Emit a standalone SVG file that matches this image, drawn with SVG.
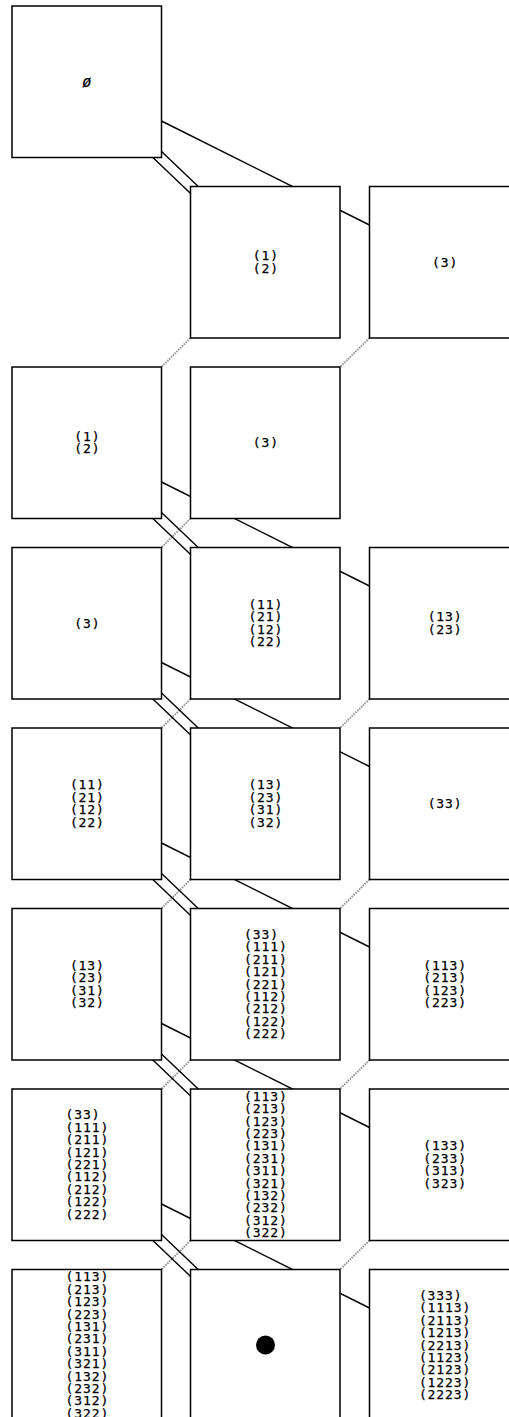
<svg xmlns="http://www.w3.org/2000/svg" width="509" height="1417" viewBox="0 0 509 1417">
<style>
.bx{fill:#fff;stroke:#000;stroke-width:1.5}
.ln{stroke:#000;stroke-width:1.4;fill:none}
.gr{stroke:#999;stroke-width:2;stroke-dasharray:1.6 1;fill:none}
.t{font-family:"DejaVu Sans Mono","Liberation Mono",monospace;font-size:13px;letter-spacing:0.9px;fill:#000;stroke:#000;stroke-width:0.25}
</style>
<rect width="509" height="1417" fill="#fff"/>
<g id="connectors">
<g id="gray">
<line class="gr" x1="190.5" y1="338" x2="161.5" y2="367"/>
<line class="gr" x1="369.5" y1="338" x2="340" y2="367"/>
<line class="gr" x1="190.5" y1="518.5" x2="161.5" y2="547.5"/>
<line class="gr" x1="190.5" y1="699" x2="161.5" y2="728"/>
<line class="gr" x1="369.5" y1="699" x2="340" y2="728"/>
<line class="gr" x1="190.5" y1="879.5" x2="161.5" y2="908.5"/>
<line class="gr" x1="369.5" y1="879.5" x2="340" y2="908.5"/>
<line class="gr" x1="190.5" y1="1060" x2="161.5" y2="1089"/>
<line class="gr" x1="369.5" y1="1060" x2="340" y2="1089"/>
<line class="gr" x1="190.5" y1="1240.5" x2="161.5" y2="1269.5"/>
<line class="gr" x1="369.5" y1="1240.5" x2="340" y2="1269.5"/>
</g>
<g id="long">
<line class="ln" x1="161.5" y1="121" x2="369.5" y2="225"/>
<line class="ln" x1="161.5" y1="482" x2="369.5" y2="586"/>
<line class="ln" x1="161.5" y1="662.5" x2="369.5" y2="766.5"/>
<line class="ln" x1="161.5" y1="843" x2="369.5" y2="947"/>
<line class="ln" x1="161.5" y1="1023.5" x2="369.5" y2="1127.5"/>
<line class="ln" x1="161.5" y1="1204" x2="369.5" y2="1308"/>
</g>
<g id="double">
<line class="ln" x1="150" y1="140.5" x2="215" y2="202.6"/>
<line class="ln" x1="145" y1="149.9" x2="210" y2="212"/>
<line class="ln" x1="150" y1="501.5" x2="215" y2="563.6"/>
<line class="ln" x1="145" y1="510.9" x2="210" y2="573"/>
<line class="ln" x1="150" y1="682" x2="215" y2="744.1"/>
<line class="ln" x1="145" y1="691.4" x2="210" y2="753.5"/>
<line class="ln" x1="150" y1="862.5" x2="215" y2="924.6"/>
<line class="ln" x1="145" y1="871.9" x2="210" y2="934"/>
<line class="ln" x1="150" y1="1043" x2="215" y2="1105.1"/>
<line class="ln" x1="145" y1="1052.4" x2="210" y2="1114.5"/>
<line class="ln" x1="150" y1="1223.5" x2="215" y2="1285.6"/>
<line class="ln" x1="145" y1="1232.9" x2="210" y2="1295"/>
</g>
</g>

<g id="r0c1"><rect class="bx" x="12" y="6" width="149.5" height="151.5"/><text class="t" x="86.75" y="87" text-anchor="middle" style="letter-spacing:0;font-style:italic;font-size:15px">ø</text></g>

<g id="r1c2"><rect class="bx" x="190.5" y="186.5" width="149.5" height="151.5"/><text class="t" x="252.8" y="260.3">(1)<tspan x="252.8" dy="12.4">(2)</tspan></text></g>
<g id="r1c3"><rect class="bx" x="369.5" y="186.5" width="149.5" height="151.5"/><text class="t" x="432" y="266.5">(3)</text></g>

<g id="r2c1"><rect class="bx" x="12" y="367" width="149.5" height="151.5"/><text class="t" x="74.3" y="440.8">(1)<tspan x="74.3" dy="12.4">(2)</tspan></text></g>
<g id="r2c2"><rect class="bx" x="190.5" y="367" width="149.5" height="151.5"/><text class="t" x="252.8" y="447">(3)</text></g>

<g id="r3c1"><rect class="bx" x="12" y="547.5" width="149.5" height="151.5"/><text class="t" x="74.3" y="627.5">(3)</text></g>
<g id="r3c2"><rect class="bx" x="190.5" y="547.5" width="149.5" height="151.5"/><text class="t" x="248.4" y="608.9">(11)<tspan x="248.4" dy="12.4">(21)</tspan><tspan x="248.4" dy="12.4">(12)</tspan><tspan x="248.4" dy="12.4">(22)</tspan></text></g>
<g id="r3c3"><rect class="bx" x="369.5" y="547.5" width="149.5" height="151.5"/><text class="t" x="427.65" y="621.3">(13)<tspan x="427.65" dy="12.4">(23)</tspan></text></g>

<g id="r4c1"><rect class="bx" x="12" y="728" width="149.5" height="151.5"/><text class="t" x="69.9" y="789.4">(11)<tspan x="69.9" dy="12.4">(21)</tspan><tspan x="69.9" dy="12.4">(12)</tspan><tspan x="69.9" dy="12.4">(22)</tspan></text></g>
<g id="r4c2"><rect class="bx" x="190.5" y="728" width="149.5" height="151.5"/><text class="t" x="248.4" y="789.4">(13)<tspan x="248.4" dy="12.4">(23)</tspan><tspan x="248.4" dy="12.4">(31)</tspan><tspan x="248.4" dy="12.4">(32)</tspan></text></g>
<g id="r4c3"><rect class="bx" x="369.5" y="728" width="149.5" height="151.5"/><text class="t" x="427.65" y="808">(33)</text></g>

<g id="r5c1"><rect class="bx" x="12" y="908.5" width="149.5" height="151.5"/><text class="t" x="69.9" y="969.9">(13)<tspan x="69.9" dy="12.4">(23)</tspan><tspan x="69.9" dy="12.4">(31)</tspan><tspan x="69.9" dy="12.4">(32)</tspan></text></g>
<g id="r5c2"><rect class="bx" x="190.5" y="908.5" width="149.5" height="151.5"/><text class="t" x="244.05" y="938.9">(33)<tspan x="244.05" dy="12.4">(111)</tspan><tspan x="244.05" dy="12.4">(211)</tspan><tspan x="244.05" dy="12.4">(121)</tspan><tspan x="244.05" dy="12.4">(221)</tspan><tspan x="244.05" dy="12.4">(112)</tspan><tspan x="244.05" dy="12.4">(212)</tspan><tspan x="244.05" dy="12.4">(122)</tspan><tspan x="244.05" dy="12.4">(222)</tspan></text></g>
<g id="r5c3"><rect class="bx" x="369.5" y="908.5" width="149.5" height="151.5"/><text class="t" x="423.3" y="969.9">(113)<tspan x="423.3" dy="12.4">(213)</tspan><tspan x="423.3" dy="12.4">(123)</tspan><tspan x="423.3" dy="12.4">(223)</tspan></text></g>

<g id="r6c1"><rect class="bx" x="12" y="1089" width="149.5" height="151.5"/><text class="t" x="65.55" y="1119.4">(33)<tspan x="65.55" dy="12.4">(111)</tspan><tspan x="65.55" dy="12.4">(211)</tspan><tspan x="65.55" dy="12.4">(121)</tspan><tspan x="65.55" dy="12.4">(221)</tspan><tspan x="65.55" dy="12.4">(112)</tspan><tspan x="65.55" dy="12.4">(212)</tspan><tspan x="65.55" dy="12.4">(122)</tspan><tspan x="65.55" dy="12.4">(222)</tspan></text></g>
<g id="r6c2"><rect class="bx" x="190.5" y="1089" width="149.5" height="151.5"/><text class="t" x="244.05" y="1100.8">(113)<tspan x="244.05" dy="12.4">(213)</tspan><tspan x="244.05" dy="12.4">(123)</tspan><tspan x="244.05" dy="12.4">(223)</tspan><tspan x="244.05" dy="12.4">(131)</tspan><tspan x="244.05" dy="12.4">(231)</tspan><tspan x="244.05" dy="12.4">(311)</tspan><tspan x="244.05" dy="12.4">(321)</tspan><tspan x="244.05" dy="12.4">(132)</tspan><tspan x="244.05" dy="12.4">(232)</tspan><tspan x="244.05" dy="12.4">(312)</tspan><tspan x="244.05" dy="12.4">(322)</tspan></text></g>
<g id="r6c3"><rect class="bx" x="369.5" y="1089" width="149.5" height="151.5"/><text class="t" x="423.3" y="1150.4">(133)<tspan x="423.3" dy="12.4">(233)</tspan><tspan x="423.3" dy="12.4">(313)</tspan><tspan x="423.3" dy="12.4">(323)</tspan></text></g>

<g id="r7c1"><rect class="bx" x="12" y="1269.5" width="149.5" height="151.5"/><text class="t" x="65.55" y="1281.3">(113)<tspan x="65.55" dy="12.4">(213)</tspan><tspan x="65.55" dy="12.4">(123)</tspan><tspan x="65.55" dy="12.4">(223)</tspan><tspan x="65.55" dy="12.4">(131)</tspan><tspan x="65.55" dy="12.4">(231)</tspan><tspan x="65.55" dy="12.4">(311)</tspan><tspan x="65.55" dy="12.4">(321)</tspan><tspan x="65.55" dy="12.4">(132)</tspan><tspan x="65.55" dy="12.4">(232)</tspan><tspan x="65.55" dy="12.4">(312)</tspan><tspan x="65.55" dy="12.4">(322)</tspan></text></g>
<g id="r7c2"><rect class="bx" x="190.5" y="1269.5" width="149.5" height="151.5"/><circle cx="265.5" cy="1345" r="9.5" fill="#000"/></g>
<g id="r7c3"><rect class="bx" x="369.5" y="1269.5" width="149.5" height="151.5"/><text class="t" x="418.9" y="1299.9">(333)<tspan x="418.9" dy="12.4">(1113)</tspan><tspan x="418.9" dy="12.4">(2113)</tspan><tspan x="418.9" dy="12.4">(1213)</tspan><tspan x="418.9" dy="12.4">(2213)</tspan><tspan x="418.9" dy="12.4">(1123)</tspan><tspan x="418.9" dy="12.4">(2123)</tspan><tspan x="418.9" dy="12.4">(1223)</tspan><tspan x="418.9" dy="12.4">(2223)</tspan></text></g>
</svg>
